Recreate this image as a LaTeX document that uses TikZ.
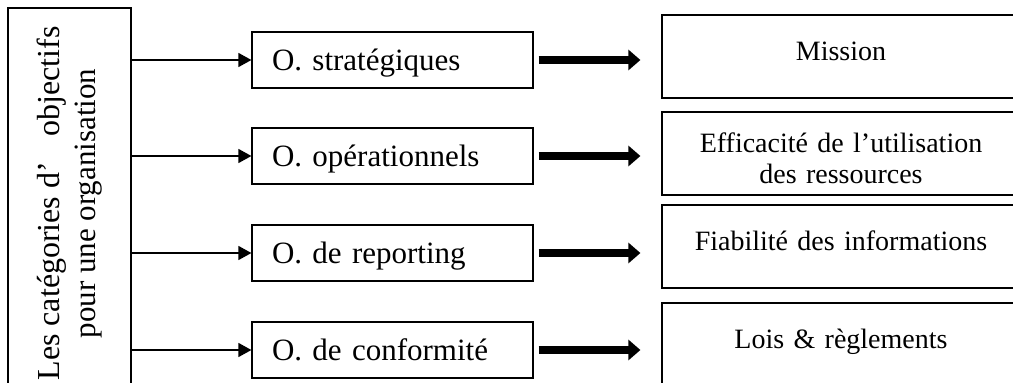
\documentclass[tikz,border=0pt]{standalone}
\usepackage{fontspec}
\setmainfont{Liberation Serif}
\usetikzlibrary{arrows.meta}
\begin{document}
\begin{tikzpicture}[x=1pt,y=-1pt,
  box/.style={draw=black, line width=1.2pt, inner sep=0pt},
  catbox/.style={box, rotate=90, minimum width=391pt, minimum height=123pt,
    align=center, font=\fontsize{31}{36}\selectfont},
  objbox/.style={box, minimum width=281pt, minimum height=56pt, text width=241pt,
    inner xsep=20pt, align=left, text height=20pt, text depth=0pt,
    font=\fontsize{31}{36}\selectfont},
  detbox/.style={box, minimum width=358pt, minimum height=83pt, text width=340pt,
    align=center, text height=20pt, text depth=13pt,
    font=\fontsize{28}{31}\selectfont},
  feedarrow/.style={line width=1.3pt, -{Triangle[length=13pt,width=14pt]}},
  flowarrow/.style={line width=8pt, -{Triangle[length=12pt,width=20pt]},
    shorten <=5pt, shorten >=21pt}]
\clip (0,0) rectangle (1013,383);

% category box (rotated text)
\node[catbox] (cat) at (69.5,203.5)
  {{\fontsize{32}{36}\selectfont\makebox[354pt][s]{Les catégories d’\hfill objectifs}}\\ pour une organisation};

% objective boxes
\node[objbox] (m1) at (392.5,60)  {O. stratégiques};
\node[objbox] (m2) at (392.5,156) {O. opérationnels};
\node[objbox] (m3) at (392.5,253) {O. de reporting};
\node[objbox] (m4) at (392.5,350) {O. de conformité};

% detail boxes
\node[detbox] (r1) at (841,56.5)  {Mission};
\node[detbox, text depth=23pt] (r2) at (841,153.5) {Efficacité de l’utilisation\\des ressources};
\node[detbox] (r3) at (841,246.5) {Fiabilité des informations};
\node[detbox] (r4) at (841,344.5) {Lois \& règlements};

% connectors
\foreach \m in {m1,m2,m3,m4}
  \draw[feedarrow] (cat.south |- \m.west) -- (\m.west);
\foreach \m/\r in {m1/r1,m2/r2,m3/r3,m4/r4}
  \draw[flowarrow] (\m.east) -- (\m.east -| \r.west);
\end{tikzpicture}
\end{document}
